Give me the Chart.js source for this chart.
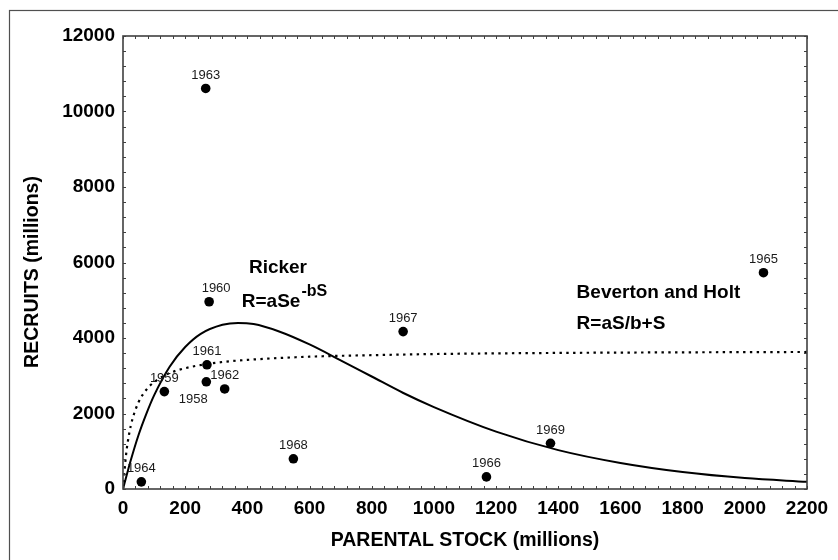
<!DOCTYPE html>
<html>
<head>
<meta charset="utf-8">
<title>Stock - recruitment</title>
<script src="https://cdn.jsdelivr.net/npm/chart.js@4.4.1/dist/chart.umd.min.js"></script>
<style>
    html, body { margin: 0; padding: 0; background: #ffffff; }
    #wrap { width: 838px; height: 560px; }
</style>
</head>
<body>
<div id="wrap"><canvas id="srChart" width="838" height="560"></canvas></div>
<script>
// observed years (label of each point)
const years = ['1958', '1959', '1960', '1961', '1962', '1963', '1964', '1965', '1966', '1967', '1968', '1969'];
// parental stock (millions)
const parentalStock = [268, 133, 277, 270, 327, 266, 59, 2060, 1169, 901, 548, 1375];
// recruits (millions)
const recruits = [2840, 2580, 4960, 3290, 2650, 10610, 190, 5730, 320, 4170, 800, 1210];

// Ricker curve
const rickerStock = [0, 25, 50, 75, 100, 150, 200, 250, 320, 370, 420, 500, 600, 700, 800, 900, 1000, 1200, 1400, 1600, 1800, 2000, 2200];
const rickerRecruits = [0, 760, 1430, 1990, 2480, 3240, 3760, 4110, 4350, 4400, 4370, 4180, 3830, 3410, 2980, 2550, 2170, 1520, 1030, 690, 450, 290, 190];

// Beverton and Holt curve
const bhStock = [0, 10, 20, 30, 50, 75, 100, 150, 200, 300, 400, 600, 800, 1000, 1400, 1800, 2200];
const bhRecruits = [0, 920, 1470, 1840, 2300, 2630, 2830, 3070, 3200, 3345, 3420, 3505, 3545, 3575, 3605, 3620, 3630];

// axis ticks
const xTicks = [0, 200, 400, 600, 800, 1000, 1200, 1400, 1600, 1800, 2000, 2200];
const yTicks = [0, 2000, 4000, 6000, 8000, 10000, 12000];

const FONT = '"Liberation Sans", Arial, sans-serif';

function toXY(xs, ys) {
    return xs.map(function (x, i) { return { x: x, y: ys[i] }; });
}

// outer frame of the figure, plot frame and inward ticks
const framePlugin = {
    id: 'frame',
    beforeDraw: function (chart) {
        const ctx = chart.ctx;
        ctx.save();
        ctx.fillStyle = '#ffffff';
        ctx.fillRect(0, 0, chart.width, chart.height);
        ctx.strokeStyle = '#505050';
        ctx.lineWidth = 1.2;
        ctx.strokeRect(9.5, 10.5, 1000, 1000);
        ctx.restore();
    },
    afterDatasetsDraw: function (chart) {
        const ctx = chart.ctx;
        const a = chart.chartArea;
        const xs = chart.scales.x, ys = chart.scales.y;
        ctx.save();
        ctx.strokeStyle = '#404040';
        ctx.lineWidth = 1;
        ctx.beginPath();
        // minor ticks: 5 per labelled interval
        for (let v = 0; v <= 2200; v += 40) {
            const px = Math.round(xs.getPixelForValue(v)) + 0.5;
            ctx.moveTo(px, a.bottom); ctx.lineTo(px, a.bottom - 3);
            ctx.moveTo(px, a.top); ctx.lineTo(px, a.top + 3);
        }
        for (let v = 0; v <= 12000; v += 400) {
            const py = Math.round(ys.getPixelForValue(v)) + 0.5;
            ctx.moveTo(a.left, py); ctx.lineTo(a.left + 3, py);
            ctx.moveTo(a.right, py); ctx.lineTo(a.right - 3, py);
        }
        ctx.stroke();
        ctx.lineWidth = 1.6;
        ctx.strokeRect(a.left, a.top, a.right - a.left, a.bottom - a.top);
        ctx.restore();
    }
};

// year labels next to the points + model names
const labelPlugin = {
    id: 'labels',
    afterDatasetsDraw: function (chart) {
        const ctx = chart.ctx;
        const xs = chart.scales.x, ys = chart.scales.y;
        const meta = chart.getDatasetMeta(0);
        // label shifts in pixels (centre of text relative to dot)
        const shift = { '1958': [-13, 31], '1960': [7, 0] };
        ctx.save();
        ctx.fillStyle = '#1a1a1a';
        ctx.font = '13px ' + FONT;
        ctx.textAlign = 'center';
        ctx.textBaseline = 'alphabetic';
        meta.data.forEach(function (pt, i) {
            const s = shift[years[i]] || [0, 0];
            ctx.fillText(years[i], pt.x + s[0], pt.y - 9.5 + s[1]);
        });

        ctx.fillStyle = '#000000';
        ctx.textAlign = 'left';
        ctx.font = 'bold 19px ' + FONT;
        ctx.fillText('Ricker', xs.getPixelForValue(405), ys.getPixelForValue(5714));
        const rx = xs.getPixelForValue(382), ry = ys.getPixelForValue(4829);
        ctx.fillText('R=aSe', rx, ry);
        const w = ctx.measureText('R=aSe').width;
        ctx.font = 'bold 16px ' + FONT;
        ctx.fillText('-bS', rx + w + 1, ry - 10.5);

        ctx.font = 'bold 19px ' + FONT;
        ctx.fillText('Beverton and Holt', xs.getPixelForValue(1459), ys.getPixelForValue(5052));
        ctx.fillText('R=aS/b+S', xs.getPixelForValue(1459), ys.getPixelForValue(4238));

        // y axis title
        ctx.translate(33, 272);
        ctx.rotate(-Math.PI / 2);
        ctx.textAlign = 'center';
        ctx.textBaseline = 'middle';
        ctx.font = 'bold 19.5px ' + FONT;
        ctx.fillText('RECRUITS (millions)', 0, 0);
        ctx.restore();
    }
};

const chart = new Chart(document.getElementById('srChart').getContext('2d'), {
    type: 'scatter',
    data: {
        datasets: [{
            label: 'Observed',
            data: toXY(parentalStock, recruits),
            pointRadius: 4.8,
            pointHoverRadius: 4.8,
            pointBackgroundColor: '#000000',
            pointBorderColor: '#000000',
            pointBorderWidth: 0,
            showLine: false,
            order: 0
        }, {
            label: 'Ricker',
            data: toXY(rickerStock, rickerRecruits),
            showLine: true,
            pointRadius: 0,
            borderColor: '#000000',
            borderWidth: 2,
            cubicInterpolationMode: 'monotone',
            order: 1
        }, {
            label: 'Beverton and Holt',
            data: toXY(bhStock, bhRecruits),
            showLine: true,
            pointRadius: 0,
            borderColor: '#000000',
            borderWidth: 2.2,
            borderDash: [2.4, 4.4],
            cubicInterpolationMode: 'monotone',
            order: 2
        }]
    },
    options: {
        responsive: false,
        animation: false,
        devicePixelRatio: 1,
        layout: { padding: { top: 36, right: 31, left: 0, bottom: 0 } },
        plugins: {
            legend: { display: false },
            tooltip: { enabled: false }
        },
        scales: {
            x: {
                type: 'linear',
                min: 0,
                max: 2200,
                grid: { display: false, drawTicks: false },
                border: { display: false },
                afterBuildTicks: function (scale) {
                    scale.ticks = xTicks.map(function (v) { return { value: v }; });
                },
                afterFit: function (scale) { scale.height = 71; },
                ticks: {
                    padding: 8,
                    maxRotation: 0,
                    autoSkip: false,
                    color: '#000000',
                    font: { family: FONT, size: 19, weight: 'bold' },
                    callback: function (v) { return String(v); }
                },
                title: {
                    display: true,
                    text: 'PARENTAL STOCK (millions)',
                    color: '#000000',
                    padding: { top: 0, bottom: 8 },
                    font: { family: FONT, size: 19.5, weight: 'bold' }
                }
            },
            y: {
                type: 'linear',
                min: 0,
                max: 12000,
                grid: { display: false, drawTicks: false },
                border: { display: false },
                afterBuildTicks: function (scale) {
                    scale.ticks = yTicks.map(function (v) { return { value: v }; });
                },
                afterFit: function (scale) { scale.width = 123; },
                ticks: {
                    padding: 8,
                    autoSkip: false,
                    color: '#000000',
                    font: { family: FONT, size: 19, weight: 'bold' },
                    callback: function (v) { return String(v); }
                }
            }
        }
    },
    plugins: [framePlugin, labelPlugin]
});
</script>
</body>
</html>
